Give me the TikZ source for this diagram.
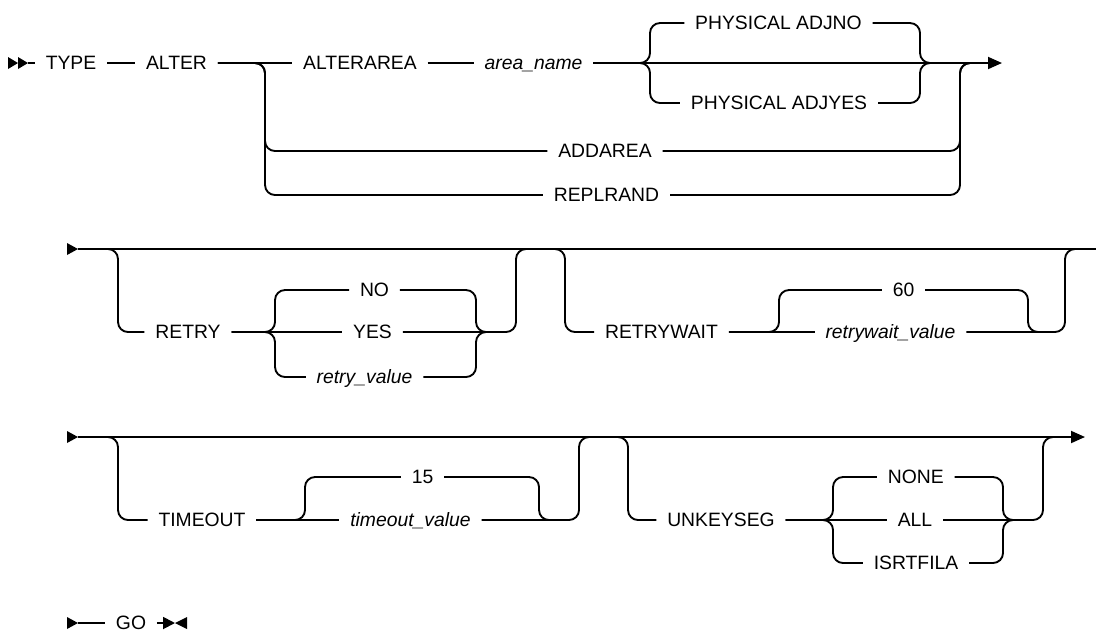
\documentclass[tikz,border=0pt]{standalone}
\usepackage{fontspec}
\setmainfont{Liberation Sans}
\usetikzlibrary{arrows.meta}
\tikzset{
  kw/.style={font=\fontsize{14.5}{17}\selectfont, text height=10.4pt, text depth=0pt, inner ysep=0pt, inner xsep=8pt},
  var/.style={kw, font=\fontsize{14.5}{17}\selectfont\itshape},
  rail/.style={line width=1.4pt, rounded corners=7.5pt},
  endarrow/.style={-{Triangle[length=10.5pt,width=9pt]}},
  tipmark/.style={fill=black}
}
\begin{document}
\begin{tikzpicture}[x=0.75pt,y=-0.75pt]
\useasboundingbox (0,0) rectangle (1096,633);

% ---------- Row 1 ----------
\fill[tipmark] (8,57) -- (18,63) -- (8,69) -- cycle;
\fill[tipmark] (18,57) -- (28,63) -- (18,69) -- cycle;
\coordinate (s1) at (28,63);
\coordinate (e1) at (1002,63);
\node[kw] (type) at (71,63) {TYPE};
\node[kw] (alter) at (176.5,63) {ALTER};
\node[kw] (alterarea) at (360,63) {ALTERAREA};
\node[var] (areaname) at (533.5,63) {area\_name};
\node[kw] (adjno) at (778.5,23) {PHYSICAL ADJNO};
\node[kw] (adjyes) at (779,103) {PHYSICAL ADJYES};
\node[kw] (addarea) at (605,151) {ADDAREA};
\node[kw] (replrand) at (606.5,195) {REPLRAND};

\draw[rail] (s1) -- (type);
\draw[rail] (type) -- (alter);
\draw[rail] (alter) -- (alterarea);
\draw[rail] (alterarea) -- (areaname);
\draw[rail,endarrow] (areaname) -- (e1);
\draw[rail] (alter.east) -- (265,63) -- (265,151) -- (addarea.west);
\draw[rail] (alter.east) -- (265,63) -- (265,195) -- (replrand.west);
\draw[rail] (addarea.east) -- (960,151) -- (960,63) -- (975,63);
\draw[rail] (replrand.east) -- (960,195) -- (960,63) -- (975,63);
\draw[rail] (areaname.east) -- (650,63) -- (650,23) -- (adjno.west);
\draw[rail] (areaname.east) -- (650,63) -- (650,103) -- (adjyes.west);
\draw[rail] (adjno.east) -- (920,23) -- (920,63) -- (935,63);
\draw[rail] (adjyes.east) -- (920,103) -- (920,63) -- (935,63);

% ---------- Row 2 ----------
\fill[tipmark] (67,243) -- (78,249) -- (67,255) -- cycle;
\coordinate (b2) at (78,249);
\coordinate (e2) at (1096,249);
\node[kw] (retry) at (188,332) {RETRY};
\node[kw] (no) at (374.5,290) {NO};
\node[kw] (yes) at (372.5,332) {YES};
\node[var] (retryval) at (364.5,377) {retry\_value};
\node[kw] (rw) at (661.5,332) {RETRYWAIT};
\node[kw] (sixty) at (903.5,290) {60};
\node[var] (rwval) at (890.5,332) {retrywait\_value};

\draw[rail] (b2) -- (e2);
\draw[rail] (b2) -- (118,249) -- (118,332) -- (retry.west);
\draw[rail] (retry) -- (yes);
\draw[rail] (retry.east) -- (275,332) -- (275,290) -- (no.west);
\draw[rail] (retry.east) -- (275,332) -- (275,377) -- (retryval.west);
\draw[rail] (no.east) -- (476,290) -- (476,332) -- (490,332);
\draw[rail] (retryval.east) -- (476,377) -- (476,332) -- (490,332);
\draw[rail] (yes.east) -- (516,332) -- (516,249) -- (530,249);

\draw[rail] (b2) -- (565,249) -- (565,332) -- (rw.west);
\draw[rail] (rw) -- (rwval);
\draw[rail] (rw.east) -- (779,332) -- (779,290) -- (sixty.west);
\draw[rail] (sixty.east) -- (1028,290) -- (1028,332) -- (1045,332);
\draw[rail] (rwval.east) -- (1065,332) -- (1065,249) -- (e2);

% ---------- Row 3 ----------
\fill[tipmark] (67,431) -- (78,437) -- (67,443) -- cycle;
\coordinate (b3) at (78,437);
\coordinate (e3) at (1085,437);
\node[kw] (timeout) at (202,520) {TIMEOUT};
\node[kw] (fifteen) at (422.5,477) {15};
\node[var] (toval) at (410.5,520) {timeout\_value};
\node[kw] (unkey) at (721,520) {UNKEYSEG};
\node[kw] (none) at (915.75,477) {NONE};
\node[kw] (all) at (915,520) {ALL};
\node[kw] (isrt) at (916,563) {ISRTFILA};

\draw[rail,endarrow] (b3) -- (e3);
\draw[rail] (b3) -- (118,437) -- (118,520) -- (timeout.west);
\draw[rail] (timeout) -- (toval);
\draw[rail] (timeout.east) -- (305,520) -- (305,477) -- (fifteen.west);
\draw[rail] (fifteen.east) -- (539,477) -- (539,520) -- (555,520);
\draw[rail] (toval.east) -- (579,520) -- (579,437) -- (595,437);

\draw[rail] (b3) -- (628,437) -- (628,520) -- (unkey.west);
\draw[rail] (unkey) -- (all);
\draw[rail] (unkey.east) -- (833,520) -- (833,477) -- (none.west);
\draw[rail] (unkey.east) -- (833,520) -- (833,563) -- (isrt.west);
\draw[rail] (none.east) -- (1003,477) -- (1003,520) -- (1020,520);
\draw[rail] (isrt.east) -- (1003,563) -- (1003,520) -- (1020,520);
\draw[rail] (all.east) -- (1043,520) -- (1043,437) -- (1060,437);

% ---------- Row 4 ----------
\fill[tipmark] (67,617) -- (78,623) -- (67,629) -- cycle;
\coordinate (b4) at (78,623);
\coordinate (e4) at (175,623);
\node[kw] (go) at (131,623) {GO};
\draw[rail] (b4) -- (go);
\draw[rail,-{Triangle[length=9pt,width=9pt]}] (go) -- (e4);
\fill[tipmark] (187,617) -- (175,623) -- (187,629) -- cycle;
\end{tikzpicture}
\end{document}
